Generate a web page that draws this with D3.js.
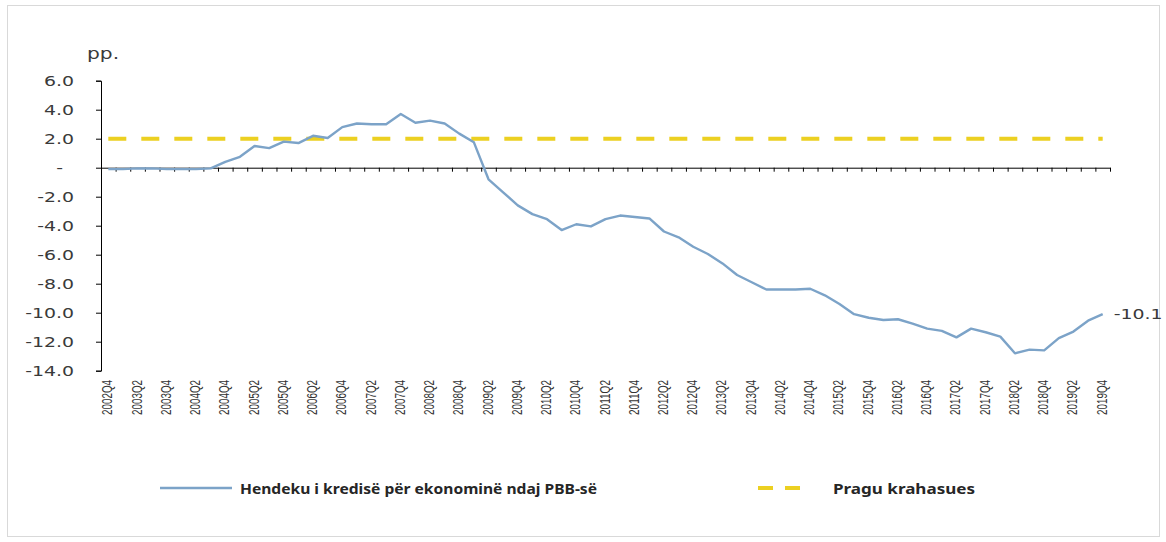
<!DOCTYPE html>
<html>
<head>
<meta charset="utf-8">
<script src="https://cdn.jsdelivr.net/npm/d3@7"></script>
<style>
  body { margin: 0; background: #fff; }
  svg text { fill: #404040; }
</style>
</head>
<body>
<svg id="chart" width="1166" height="542"></svg>
<script>
/******************** data ********************/

// quarters 2002Q4 .. 2019Q4
var quarters = ["2002Q4"];
for (var yr = 2003; yr <= 2019; yr++) {
  for (var q = 1; q <= 4; q++) quarters.push(yr + "Q" + q);
}

// Hendeku i kredisë për ekonominë ndaj PBB-së (pp.)
var creditGap = [
  -0.1, -0.1, -0.05, -0.05, -0.1, -0.1, -0.1, -0.05, 0.4, 0.75,
  1.5, 1.35, 1.8, 1.7, 2.2, 2.05, 2.8, 3.05, 3.0, 3.0,
  3.7, 3.1, 3.25, 3.05, 2.35, 1.75, -0.8, -1.7, -2.6, -3.2,
  -3.55, -4.3, -3.9, -4.05, -3.55, -3.3, -3.4, -3.5, -4.4, -4.8,
  -5.45, -5.95, -6.6, -7.4, -7.9, -8.4, -8.4, -8.4, -8.35, -8.8,
  -9.4, -10.1, -10.35, -10.5, -10.45, -10.75, -11.1, -11.25, -11.7, -11.1,
  -11.35, -11.65, -12.8, -12.55, -12.6, -11.75, -11.3, -10.55, -10.1
];

// Pragu krahasues
var threshold = quarters.map(function () { return 2.0; });

var yTicks = [6, 4, 2, 0, -2, -4, -6, -8, -10, -12, -14];

var seriesNames = ["Hendeku i kredisë për ekonominë ndaj PBB-së", "Pragu krahasues"];

/******************** scales ********************/

var svg = d3.select("#chart");
var SX = 1.35; // the source image is stretched horizontally

var x = d3.scaleBand().domain(quarters).range([101, 1110]).padding(0);
var xc = function (q) { return x(q) + x.bandwidth() / 2; };
var xEdge = d3.scaleLinear().domain([0, quarters.length]).range([101, 1110]);
var y = d3.scaleLinear().domain([-14, 6]).range([370.7, 80.7]);

// frame
svg.append("rect").attr("x", 7.5).attr("y", 5.5).attr("width", 1152).attr("height", 531)
  .attr("fill", "none").attr("stroke", "#d9d9d9");

/******************** axes ********************/

var yAxis = svg.append("g").attr("transform", "translate(101,0)")
  .call(d3.axisLeft(y).tickValues(yTicks).tickSize(5).tickSizeOuter(5)
    .tickFormat(function (d) { return d === 0 ? "-" : d.toFixed(1); }));
yAxis.select(".domain").attr("stroke", "#000");
yAxis.selectAll(".tick line").attr("stroke", "#000");
yAxis.selectAll(".tick text")
  .attr("font-family", "DejaVu Sans").attr("font-size", 14)
  .attr("x", function (d) { return d === 0 ? -38 / SX : -27 / SX; })
  .attr("transform", "scale(" + SX + ",1)")
  .style("fill", "#3a3a3a");

var xAxis = svg.append("g").attr("transform", "translate(0," + y(0) + ")")
  .call(d3.axisBottom(xEdge).tickValues(d3.range(1, quarters.length + 1))
    .tickSize(4).tickSizeOuter(0).tickFormat(""));
xAxis.select(".domain").attr("stroke", "#000");
xAxis.selectAll(".tick line").attr("stroke", "#000");

svg.append("g").selectAll("text")
  .data(quarters.filter(function (d, i) { return i % 2 === 0; }))
  .enter().append("text")
  .attr("transform", function (d) { return "translate(" + (xc(d) + 4) + ",380) scale(1.3,1) rotate(-90)"; })
  .attr("text-anchor", "end")
  .attr("font-family", "Liberation Sans").attr("font-size", 11)
  .attr("textLength", 35).attr("lengthAdjust", "spacingAndGlyphs")
  .style("fill", "#333")
  .text(function (d) { return d; });

svg.append("text").attr("transform", "translate(87,59) scale(" + SX + ",1)")
  .attr("font-family", "DejaVu Sans").attr("font-size", 15).style("fill", "#3a3a3a").text("pp.");

/******************** lines ********************/

svg.append("path").datum(threshold)
  .attr("fill", "none").attr("stroke", "#ecd021").attr("stroke-width", 4)
  .attr("stroke-dasharray", "18,15")
  .attr("d", d3.line().x(function (d, i) { return xc(quarters[i]); }).y(function (d) { return y(d); }));

svg.append("path").datum(creditGap)
  .attr("fill", "none").attr("stroke", "#7ca3c8").attr("stroke-width", 2.4)
  .attr("stroke-linejoin", "round")
  .attr("d", d3.line().x(function (d, i) { return xc(quarters[i]); }).y(function (d) { return y(d); }));

var last = quarters.length - 1;
svg.append("text")
  .attr("transform", "translate(" + (xc(quarters[last]) + 11) + "," + (y(creditGap[last]) + 5) + ") scale(" + SX + ",1)")
  .attr("font-family", "DejaVu Sans").attr("font-size", 14).style("fill", "#3a3a3a")
  .text(creditGap[last].toFixed(1));

/******************** legend ********************/

var lg = svg.append("g");
lg.append("line").attr("x1", 160).attr("x2", 232).attr("y1", 488).attr("y2", 488)
  .attr("stroke", "#7ca3c8").attr("stroke-width", 2.4);
lg.append("text").attr("x", 240).attr("y", 494)
  .attr("font-family", "Noto Sans").attr("font-weight", "bold").attr("font-size", 15)
  .attr("textLength", 357).attr("lengthAdjust", "spacingAndGlyphs")
  .style("fill", "#262626").text(seriesNames[0]);
lg.append("line").attr("x1", 758).attr("x2", 802).attr("y1", 488).attr("y2", 488)
  .attr("stroke", "#ecd021").attr("stroke-width", 4).attr("stroke-dasharray", "15,12");
lg.append("text").attr("x", 833).attr("y", 494)
  .attr("font-family", "Noto Sans").attr("font-weight", "bold").attr("font-size", 15)
  .attr("textLength", 142).attr("lengthAdjust", "spacingAndGlyphs")
  .style("fill", "#262626").text(seriesNames[1]);
</script>
</body>
</html>
